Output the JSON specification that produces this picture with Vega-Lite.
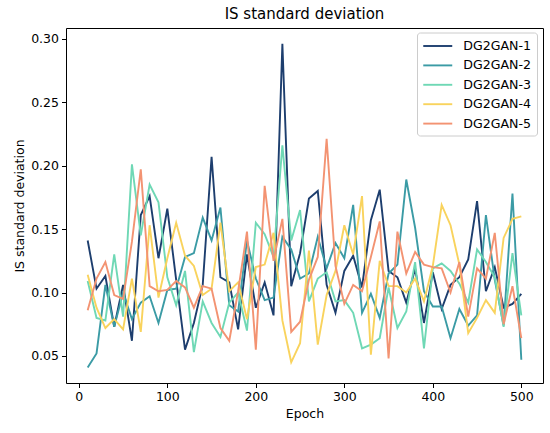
{
  "$schema": "https://vega.github.io/schema/vega-lite/v6.json",
  "width": 477,
  "height": 355,
  "autosize": "none",
  "padding": {"left": 66, "top": 28, "right": 7, "bottom": 50},
  "title": {"text": "IS standard deviation", "font": "DejaVu Sans", "fontSize": 15, "fontWeight": "normal", "color": "black", "offset": 6},
  "data": {
    "values": [
      {"epoch": 10, "DG2GAN-1": 0.141, "DG2GAN-2": 0.041, "DG2GAN-3": 0.109, "DG2GAN-4": 0.114, "DG2GAN-5": 0.086},
      {"epoch": 20, "DG2GAN-1": 0.103, "DG2GAN-2": 0.052, "DG2GAN-3": 0.080, "DG2GAN-4": 0.088, "DG2GAN-5": 0.111},
      {"epoch": 30, "DG2GAN-1": 0.113, "DG2GAN-2": 0.106, "DG2GAN-3": 0.078, "DG2GAN-4": 0.072, "DG2GAN-5": 0.124},
      {"epoch": 40, "DG2GAN-1": 0.073, "DG2GAN-2": 0.073, "DG2GAN-3": 0.130, "DG2GAN-4": 0.079, "DG2GAN-5": 0.098},
      {"epoch": 50, "DG2GAN-1": 0.106, "DG2GAN-2": 0.100, "DG2GAN-3": 0.081, "DG2GAN-4": 0.071, "DG2GAN-5": 0.095},
      {"epoch": 60, "DG2GAN-1": 0.062, "DG2GAN-2": 0.079, "DG2GAN-3": 0.201, "DG2GAN-4": 0.111, "DG2GAN-5": 0.140},
      {"epoch": 70, "DG2GAN-1": 0.161, "DG2GAN-2": 0.092, "DG2GAN-3": 0.145, "DG2GAN-4": 0.069, "DG2GAN-5": 0.197},
      {"epoch": 80, "DG2GAN-1": 0.176, "DG2GAN-2": 0.097, "DG2GAN-3": 0.185, "DG2GAN-4": 0.153, "DG2GAN-5": 0.105},
      {"epoch": 90, "DG2GAN-1": 0.127, "DG2GAN-2": 0.076, "DG2GAN-3": 0.171, "DG2GAN-4": 0.096, "DG2GAN-5": 0.101},
      {"epoch": 100, "DG2GAN-1": 0.166, "DG2GAN-2": 0.102, "DG2GAN-3": 0.112, "DG2GAN-4": 0.127, "DG2GAN-5": 0.102},
      {"epoch": 110, "DG2GAN-1": 0.110, "DG2GAN-2": 0.103, "DG2GAN-3": 0.090, "DG2GAN-4": 0.155, "DG2GAN-5": 0.109},
      {"epoch": 120, "DG2GAN-1": 0.055, "DG2GAN-2": 0.128, "DG2GAN-3": 0.117, "DG2GAN-4": 0.129, "DG2GAN-5": 0.104},
      {"epoch": 130, "DG2GAN-1": 0.076, "DG2GAN-2": 0.131, "DG2GAN-3": 0.053, "DG2GAN-4": 0.121, "DG2GAN-5": 0.088},
      {"epoch": 140, "DG2GAN-1": 0.106, "DG2GAN-2": 0.159, "DG2GAN-3": 0.093, "DG2GAN-4": 0.098, "DG2GAN-5": 0.105},
      {"epoch": 150, "DG2GAN-1": 0.207, "DG2GAN-2": 0.141, "DG2GAN-3": 0.076, "DG2GAN-4": 0.103, "DG2GAN-5": 0.103},
      {"epoch": 160, "DG2GAN-1": 0.112, "DG2GAN-2": 0.167, "DG2GAN-3": 0.065, "DG2GAN-4": 0.155, "DG2GAN-5": 0.072},
      {"epoch": 170, "DG2GAN-1": 0.108, "DG2GAN-2": 0.090, "DG2GAN-3": 0.092, "DG2GAN-4": 0.101, "DG2GAN-5": 0.062},
      {"epoch": 180, "DG2GAN-1": 0.071, "DG2GAN-2": 0.085, "DG2GAN-3": 0.100, "DG2GAN-4": 0.108, "DG2GAN-5": 0.101},
      {"epoch": 190, "DG2GAN-1": 0.130, "DG2GAN-2": 0.141, "DG2GAN-3": 0.070, "DG2GAN-4": 0.079, "DG2GAN-5": 0.148},
      {"epoch": 200, "DG2GAN-1": 0.088, "DG2GAN-2": 0.111, "DG2GAN-3": 0.155, "DG2GAN-4": 0.120, "DG2GAN-5": 0.055},
      {"epoch": 210, "DG2GAN-1": 0.108, "DG2GAN-2": 0.094, "DG2GAN-3": 0.146, "DG2GAN-4": 0.122, "DG2GAN-5": 0.184},
      {"epoch": 220, "DG2GAN-1": 0.082, "DG2GAN-2": 0.096, "DG2GAN-3": 0.128, "DG2GAN-4": 0.147, "DG2GAN-5": 0.125},
      {"epoch": 230, "DG2GAN-1": 0.296, "DG2GAN-2": 0.144, "DG2GAN-3": 0.216, "DG2GAN-4": 0.078, "DG2GAN-5": 0.158},
      {"epoch": 240, "DG2GAN-1": 0.105, "DG2GAN-2": 0.134, "DG2GAN-3": 0.141, "DG2GAN-4": 0.045, "DG2GAN-5": 0.069},
      {"epoch": 250, "DG2GAN-1": 0.131, "DG2GAN-2": 0.111, "DG2GAN-3": 0.165, "DG2GAN-4": 0.060, "DG2GAN-5": 0.077},
      {"epoch": 260, "DG2GAN-1": 0.174, "DG2GAN-2": 0.115, "DG2GAN-3": 0.093, "DG2GAN-4": 0.133, "DG2GAN-5": 0.110},
      {"epoch": 270, "DG2GAN-1": 0.180, "DG2GAN-2": 0.144, "DG2GAN-3": 0.111, "DG2GAN-4": 0.059, "DG2GAN-5": 0.128},
      {"epoch": 280, "DG2GAN-1": 0.106, "DG2GAN-2": 0.119, "DG2GAN-3": 0.116, "DG2GAN-4": 0.098, "DG2GAN-5": 0.221},
      {"epoch": 290, "DG2GAN-1": 0.084, "DG2GAN-2": 0.139, "DG2GAN-3": 0.093, "DG2GAN-4": 0.117, "DG2GAN-5": 0.121},
      {"epoch": 300, "DG2GAN-1": 0.117, "DG2GAN-2": 0.127, "DG2GAN-3": 0.094, "DG2GAN-4": 0.153, "DG2GAN-5": 0.091},
      {"epoch": 310, "DG2GAN-1": 0.129, "DG2GAN-2": 0.169, "DG2GAN-3": 0.084, "DG2GAN-4": 0.130, "DG2GAN-5": 0.106},
      {"epoch": 320, "DG2GAN-1": 0.104, "DG2GAN-2": 0.084, "DG2GAN-3": 0.056, "DG2GAN-4": 0.176, "DG2GAN-5": 0.101},
      {"epoch": 330, "DG2GAN-1": 0.157, "DG2GAN-2": 0.099, "DG2GAN-3": 0.059, "DG2GAN-4": 0.051, "DG2GAN-5": 0.128},
      {"epoch": 340, "DG2GAN-1": 0.181, "DG2GAN-2": 0.080, "DG2GAN-3": 0.064, "DG2GAN-4": 0.125, "DG2GAN-5": 0.156},
      {"epoch": 350, "DG2GAN-1": 0.117, "DG2GAN-2": 0.115, "DG2GAN-3": 0.104, "DG2GAN-4": 0.105, "DG2GAN-5": 0.048},
      {"epoch": 360, "DG2GAN-1": 0.112, "DG2GAN-2": 0.122, "DG2GAN-3": 0.072, "DG2GAN-4": 0.105, "DG2GAN-5": 0.148},
      {"epoch": 370, "DG2GAN-1": 0.092, "DG2GAN-2": 0.189, "DG2GAN-3": 0.085, "DG2GAN-4": 0.100, "DG2GAN-5": 0.115},
      {"epoch": 380, "DG2GAN-1": 0.119, "DG2GAN-2": 0.151, "DG2GAN-3": 0.124, "DG2GAN-4": 0.111, "DG2GAN-5": 0.132},
      {"epoch": 390, "DG2GAN-1": 0.076, "DG2GAN-2": 0.101, "DG2GAN-3": 0.056, "DG2GAN-4": 0.093, "DG2GAN-5": 0.122},
      {"epoch": 400, "DG2GAN-1": 0.116, "DG2GAN-2": 0.089, "DG2GAN-3": 0.119, "DG2GAN-4": 0.121, "DG2GAN-5": 0.120},
      {"epoch": 410, "DG2GAN-1": 0.087, "DG2GAN-2": 0.089, "DG2GAN-3": 0.123, "DG2GAN-4": 0.169, "DG2GAN-5": 0.119},
      {"epoch": 420, "DG2GAN-1": 0.106, "DG2GAN-2": 0.064, "DG2GAN-3": 0.117, "DG2GAN-4": 0.153, "DG2GAN-5": 0.100},
      {"epoch": 430, "DG2GAN-1": 0.112, "DG2GAN-2": 0.087, "DG2GAN-3": 0.107, "DG2GAN-4": 0.122, "DG2GAN-5": 0.124},
      {"epoch": 440, "DG2GAN-1": 0.126, "DG2GAN-2": 0.074, "DG2GAN-3": 0.092, "DG2GAN-4": 0.068, "DG2GAN-5": 0.081},
      {"epoch": 450, "DG2GAN-1": 0.172, "DG2GAN-2": 0.082, "DG2GAN-3": 0.134, "DG2GAN-4": 0.080, "DG2GAN-5": 0.119},
      {"epoch": 460, "DG2GAN-1": 0.101, "DG2GAN-2": 0.161, "DG2GAN-3": 0.124, "DG2GAN-4": 0.094, "DG2GAN-5": 0.111},
      {"epoch": 470, "DG2GAN-1": 0.120, "DG2GAN-2": 0.110, "DG2GAN-3": 0.112, "DG2GAN-4": 0.084, "DG2GAN-5": 0.147},
      {"epoch": 480, "DG2GAN-1": 0.088, "DG2GAN-2": 0.074, "DG2GAN-3": 0.073, "DG2GAN-4": 0.143, "DG2GAN-5": 0.075},
      {"epoch": 490, "DG2GAN-1": 0.091, "DG2GAN-2": 0.178, "DG2GAN-3": 0.131, "DG2GAN-4": 0.158, "DG2GAN-5": 0.105},
      {"epoch": 500, "DG2GAN-1": 0.099, "DG2GAN-2": 0.047, "DG2GAN-3": 0.082, "DG2GAN-4": 0.160, "DG2GAN-5": 0.064}
    ]
  },
  "transform": [
    {"fold": ["DG2GAN-1", "DG2GAN-2", "DG2GAN-3", "DG2GAN-4", "DG2GAN-5"], "as": ["series", "value"]}
  ],
  "mark": {"type": "line", "strokeWidth": 1.9},
  "encoding": {
    "x": {
      "field": "epoch",
      "type": "quantitative",
      "scale": {"domain": [-14.5, 524.5], "nice": false, "zero": false},
      "axis": {"values": [0, 100, 200, 300, 400, 500], "title": "Epoch"}
    },
    "y": {
      "field": "value",
      "type": "quantitative",
      "scale": {"domain": [0.0287, 0.3084], "nice": false, "zero": false},
      "axis": {"values": [0.05, 0.1, 0.15, 0.2, 0.25, 0.3], "format": ".2f", "title": "IS standard deviation"}
    },
    "color": {
      "field": "series",
      "type": "nominal",
      "scale": {
        "domain": ["DG2GAN-1", "DG2GAN-2", "DG2GAN-3", "DG2GAN-4", "DG2GAN-5"],
        "range": ["#1d3e6e", "#3b9ba5", "#6fd8b5", "#f9d35d", "#f39372"]
      },
      "legend": {
        "title": null,
        "orient": "none",
        "legendX": 351,
        "legendY": 4.5,
        "padding": 5,
        "rowPadding": 3.4,
        "strokeColor": "#cccccc",
        "fillColor": "rgba(255,255,255,0.8)",
        "cornerRadius": 3,
        "symbolType": "M-2,0H2",
        "symbolSize": 210,
        "symbolOffset": 7.25,
        "symbolStrokeWidth": 1.9,
        "labelFont": "DejaVu Sans",
        "labelFontSize": 12.6,
        "labelColor": "black",
        "labelOffset": 17
      }
    }
  },
  "config": {
    "view": {"stroke": "black", "strokeWidth": 1},
    "axis": {
      "grid": false,
      "domain": false,
      "tickColor": "black",
      "tickSize": 4.5,
      "labelPadding": 3,
      "labelColor": "black",
      "labelFont": "DejaVu Sans",
      "labelFontSize": 12.5,
      "titleFont": "DejaVu Sans",
      "titleFontSize": 12.5,
      "titleFontWeight": "normal",
      "titleColor": "black"
    }
  }
}
